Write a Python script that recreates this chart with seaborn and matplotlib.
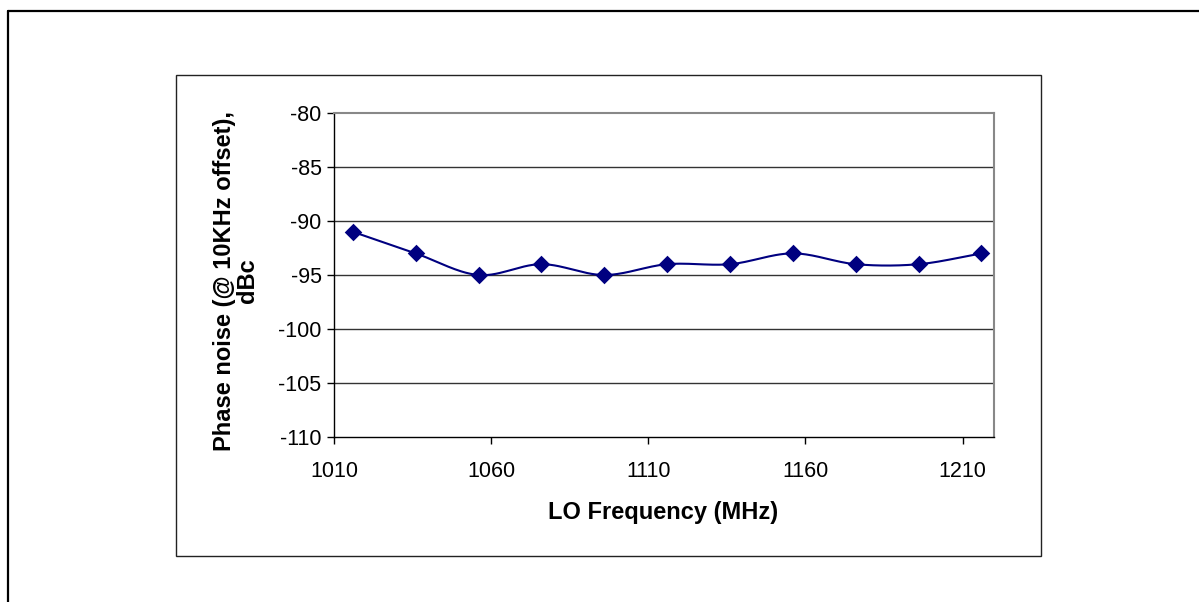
import numpy as np
import pandas as pd
import matplotlib
matplotlib.use("Agg")
import matplotlib.pyplot as plt
import seaborn as sns
from matplotlib.patches import Rectangle
from matplotlib.lines import Line2D

# ---- data ----
lo_freq_mhz = [1016, 1036, 1056, 1076, 1096, 1116, 1136, 1156, 1176, 1196, 1216]
phase_noise_dbc = [-91, -93, -95, -94, -95, -94, -94, -93, -94, -94, -93]
x_ticks = [1010, 1060, 1110, 1160, 1210]
y_ticks = [-110, -105, -100, -95, -90, -85, -80]
x_label = "LO Frequency (MHz)"
y_label = "Phase noise (@ 10KHz offset),\ndBc"

sns.set_theme(style="white")
plt.rcParams['font.family'] = ['Liberation Sans', 'DejaVu Sans']

W, H = 1199, 602
fig = plt.figure(figsize=(W / 100, H / 100), dpi=100)
fig.patch.set_facecolor("white")

def fx(px):
    return px / W

def fy(py):
    return 1 - py / H

# outer frame (top and left only visible)
fig.add_artist(Line2D([fx(8), 1.0], [fy(11), fy(11)], color="black", lw=1.6, transform=fig.transFigure))
fig.add_artist(Line2D([fx(8), fx(8)], [fy(11), 0.0], color="black", lw=1.6, transform=fig.transFigure))

# chart area box
fig.add_artist(Rectangle((fx(176), fy(556)), fx(1041) - fx(176), fy(75) - fy(556),
                         fill=False, edgecolor="#222222", lw=1.0, transform=fig.transFigure))

ax = fig.add_axes([fx(334), fy(437), fx(994) - fx(334), fy(113) - fy(437)])
ax.set_facecolor("white")

# smooth curve (Catmull-Rom through data points, like Excel smoothed line)
xs = np.array(lo_freq_mhz, dtype=float)
ys = np.array(phase_noise_dbc, dtype=float)
px = np.concatenate([[2 * xs[0] - xs[1]], xs, [2 * xs[-1] - xs[-2]]])
py = np.concatenate([[2 * ys[0] - ys[1]], ys, [2 * ys[-1] - ys[-2]]])
cx, cy = [], []
t = np.linspace(0, 1, 30)
for i in range(1, len(px) - 2):
    p0x, p1x, p2x, p3x = px[i - 1], px[i], px[i + 1], px[i + 2]
    p0y, p1y, p2y, p3y = py[i - 1], py[i], py[i + 1], py[i + 2]
    b1x, b1y = p1x + (p2x - p0x) / 6, p1y + (p2y - p0y) / 6
    b2x, b2y = p2x - (p3x - p1x) / 6, p2y - (p3y - p1y) / 6
    bx = (1 - t) ** 3 * p1x + 3 * (1 - t) ** 2 * t * b1x + 3 * (1 - t) * t ** 2 * b2x + t ** 3 * p2x
    by = (1 - t) ** 3 * p1y + 3 * (1 - t) ** 2 * t * b1y + 3 * (1 - t) * t ** 2 * b2y + t ** 3 * p2y
    cx.extend(bx)
    cy.extend(by)
curve = pd.DataFrame({"x": cx, "y": cy})
pts = pd.DataFrame({"x": lo_freq_mhz, "y": phase_noise_dbc})

ax.plot(curve["x"], curve["y"], color="#000080", lw=1.5, zorder=3)
sns.scatterplot(data=pts, x="x", y="y", marker="D", s=80, color="#000080",
                edgecolor="#000080", linewidth=0, ax=ax, zorder=4)

ax.set_xlim(1010, 1220)
ax.set_ylim(-110, -80)
ax.set_xticks(x_ticks)
ax.set_yticks(y_ticks)
ax.set_xticklabels([str(v) for v in x_ticks])
ax.set_yticklabels([str(v) for v in y_ticks])

for v in y_ticks[1:-1]:
    ax.axhline(v, color="#333333", lw=1.0, zorder=1)

for side in ["left", "bottom"]:
    ax.spines[side].set_color("black")
    ax.spines[side].set_linewidth(1.0)
for side in ["top", "right"]:
    ax.spines[side].set_color("#888888")
    ax.spines[side].set_linewidth(1.5)

ax.tick_params(axis="both", which="major", direction="out", length=5, width=1,
               color="black", labelsize=15.5, labelcolor="black",
               bottom=True, left=True)
ax.tick_params(axis="x", pad=12)
ax.tick_params(axis="y", pad=4)

ax.set_xlabel("")
ax.set_ylabel("")

fig.text(fx(663.5), fy(512), x_label, ha="center", va="center",
         fontsize=17, fontweight="bold", color="black")
fig.text(fx(236), fy(281), y_label, ha="center", va="center", rotation=90,
         fontsize=17, fontweight="bold", color="black", linespacing=1.0,
         multialignment="center")

fig.savefig("out.png", dpi=100, facecolor="white")
